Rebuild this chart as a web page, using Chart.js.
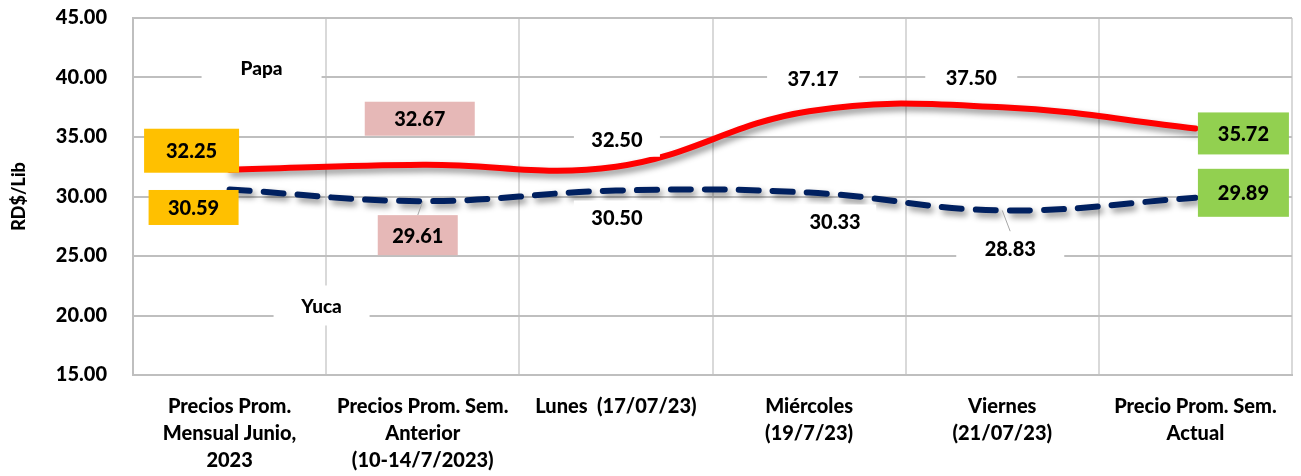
<!DOCTYPE html>
<html>
<head>
<meta charset="utf-8">
<script src="https://cdn.jsdelivr.net/npm/chart.js@4.4.0/dist/chart.umd.min.js"></script>
<style>
  html, body { margin: 0; padding: 0; background: #fff; }
  #wrap { width: 1301px; height: 476px; }
</style>
</head>
<body>
<div id="wrap"><canvas id="myChart" width="1301" height="476"></canvas></div>
<script>
// datos del grafico
var categories = [
    ['Precios Prom.', 'Mensual Junio,', '2023'],
    ['Precios Prom. Sem.', 'Anterior', '(10-14/7/2023)'],
    'Lunes  (17/07/23)',
    ['Miércoles', '(19/7/23)'],
    ['Viernes', '(21/07/23)'],
    ['Precio Prom. Sem.', 'Actual']
];
var papa = [32.25, 32.67, 32.50, 37.17, 37.50, 35.72];
var yuca = [30.59, 29.61, 30.50, 30.33, 28.83, 29.89];
var yMin = 15, yMax = 45, yStep = 5;
var seriesNames = ['Papa', 'Yuca'];

// estilo de las etiquetas
var FONT = 'Lato, "Liberation Sans", sans-serif';
var boxFill = ['#FFC000', '#E6B8B7', '#ffffff', '#ffffff', '#ffffff', '#92D050'];
var labelOffsets = [
    [[-38, -19], [-3, -46], [1, -27], [4, -33], [-31, -30], [48, 5]],
    [[-36, 18], [-5, 34], [1, 27], [26, 29], [8, 38], [48, -5]]
];
var boxSizes = [
    [[95, 44], [110, 34], [86, 34], [92, 34], [92, 34], [91, 42]],
    [[90, 35], [80, 40], [86, 34], [82, 34], [108, 34], [91, 48]]
];
var leaders = [
    [false, false, false, false, false, false],
    [false, true, false, false, true, false]
];
var nameOffsets = [[32, -102], [92, 116]];
var nameBoxes = [[120, 50], [96, 40]];

var shadowPlugin = {
    id: 'lineShadow',
    beforeDatasetDraw: function (chart) {
        var c = chart.ctx;
        c.save();
        c.shadowColor = 'rgba(0,0,0,0.45)';
        c.shadowBlur = 6;
        c.shadowOffsetX = 3;
        c.shadowOffsetY = 4;
    },
    afterDatasetDraw: function (chart) {
        chart.ctx.restore();
    }
};

var labelPlugin = {
    id: 'boxLabels',
    afterDatasetsDraw: function (chart) {
        var c = chart.ctx;
        c.save();
        c.textAlign = 'center';
        c.textBaseline = 'middle';
        chart.data.datasets.forEach(function (ds, d) {
            var meta = chart.getDatasetMeta(d);
            meta.data.forEach(function (pt, i) {
                var off = labelOffsets[d][i];
                var sz = boxSizes[d][i];
                var cx = pt.x + off[0], cy = pt.y + off[1];
                if (leaders[d][i]) {
                    c.strokeStyle = '#a6a6a6';
                    c.lineWidth = 1;
                    c.beginPath();
                    c.moveTo(pt.x, pt.y);
                    c.lineTo(cx, cy - (off[1] > 0 ? sz[1] / 2 : -sz[1] / 2));
                    c.stroke();
                }
                c.fillStyle = boxFill[i];
                c.fillRect(cx - sz[0] / 2, cy - sz[1] / 2, sz[0], sz[1]);
                c.fillStyle = '#000';
                c.font = '900 20px ' + FONT;
                c.fillText(ds.data[i].toFixed(2), cx, cy + 1);
            });
            // nombre de la serie
            var p0 = meta.data[0];
            var nx = p0.x + nameOffsets[d][0], ny = p0.y + nameOffsets[d][1];
            c.fillStyle = '#fff';
            c.fillRect(nx - nameBoxes[d][0] / 2, ny - nameBoxes[d][1] / 2, nameBoxes[d][0], nameBoxes[d][1]);
            c.fillStyle = '#000';
            c.font = '900 19px ' + FONT;
            c.fillText(ds.label, nx, ny + 1);
        });
        c.restore();
    }
};

var ctx = document.getElementById('myChart').getContext('2d');
var myChart = new Chart(ctx, {
    type: 'line',
    data: {
        labels: categories,
        datasets: [{
            label: seriesNames[0],
            data: papa,
            borderColor: '#FF0000',
            borderWidth: 6,
            tension: 0.4,
            pointRadius: 0,
            borderCapStyle: 'round',
            fill: false
        }, {
            label: seriesNames[1],
            data: yuca,
            borderColor: '#002060',
            borderWidth: 6,
            borderDash: [20, 14],
            borderCapStyle: 'round',
            tension: 0.4,
            pointRadius: 0,
            fill: false
        }]
    },
    options: {
        responsive: false,
        animation: false,
        layout: { padding: { top: 18, right: 9, left: 8, bottom: 0 } },
        plugins: {
            legend: { display: false },
            tooltip: { enabled: false }
        },
        scales: {
            x: {
                offset: true,
                grid: { color: '#d9d9d9', lineWidth: 2, offset: true, drawTicks: false },
                border: { color: '#bfbfbf', width: 2 },
                ticks: {
                    color: '#000',
                    font: { family: FONT, size: 20, weight: '900', lineHeight: 1.35 },
                    maxRotation: 0,
                    autoSkip: false,
                    padding: 18
                },
                afterFit: function (scale) {
                    scale.height = 101;
                    scale.paddingLeft = 0;
                    scale.paddingRight = 0;
                }
            },
            y: {
                min: yMin,
                max: yMax,
                grid: { color: '#bfbfbf', lineWidth: 2, drawTicks: false },
                border: { color: '#bfbfbf', width: 2 },
                ticks: {
                    stepSize: yStep,
                    color: '#000',
                    padding: 26,
                    font: { family: FONT, size: 20, weight: '900' },
                    callback: function (v) { return v.toFixed(2); }
                },
                title: {
                    display: true,
                    text: 'RD$/Lib',
                    color: '#000',
                    font: { family: FONT, size: 18, weight: '900' },
                    padding: { top: 0, bottom: 0 }
                },
                afterFit: function (scale) {
                    scale.width = 125;
                    scale.paddingTop = 0;
                    scale.paddingBottom = 0;
                }
            }
        }
    },
    plugins: [shadowPlugin, labelPlugin]
});
</script>
</body>
</html>
